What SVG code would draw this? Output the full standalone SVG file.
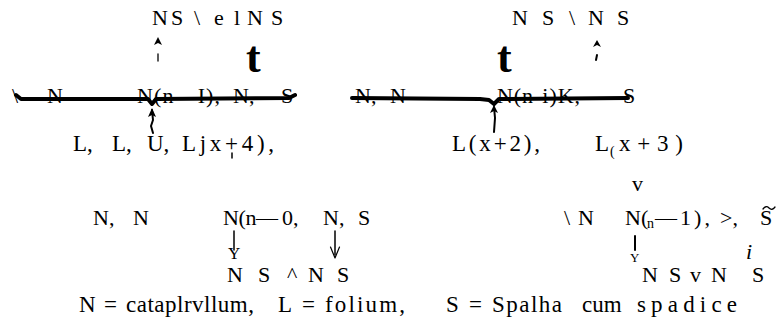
<svg xmlns="http://www.w3.org/2000/svg" width="776" height="335" viewBox="0 0 776 335">
<style>
text{font-family:'Liberation Serif',serif;font-size:22px;fill:#000}
.b{font-weight:bold;font-size:44px}
.sm{font-size:14px}
.it{font-style:italic}
.lg{font-size:23px}
.r3{font-size:23px}
.ln{fill:none;stroke:#000;stroke-linecap:round;stroke-linejoin:round}
</style>
<rect width="776" height="335" fill="#fff"/>
<g font-family="Liberation Serif, serif">
<g id="top-left"><text x="152 171 194 214 234 247 271" y="25">NS\elNS</text></g>
<g id="top-right"><text x="512 542 569 588 617" y="25">NS\NS</text></g>
<g id="t-left"><text class="b" x="246" y="72">t</text></g>
<g id="t-right"><text class="b" x="497" y="72">t</text></g>
<g id="row2-left">
<text x="12" y="103">\</text>
<text x="47" y="103">N</text>
<text x="137" y="103" textLength="83">N(n—I),</text>
<text x="233" y="103">N,</text>
<text x="281" y="103">S</text>
</g>
<g id="row2-right">
<text x="355" y="103">N,</text>
<text x="390" y="103">N</text>
<text x="497" y="103" textLength="83">N(n-i)K,</text>
<text x="623" y="103">S</text>
</g>
<g id="row3-left">
<text class="r3" x="73" y="151">L,</text>
<text class="r3" x="112" y="151">L,</text>
<text class="r3" x="147" y="151">U,</text>
<text class="r3" x="182" y="151" textLength="92">Ljx+4),</text>
</g>
<g id="row3-right">
<text class="r3" x="452" y="151" textLength="88">L(x+2),</text>
<text class="r3" x="595" y="151">L</text>
<text class="sm" x="610" y="156">(</text>
<text class="r3" x="619" y="151" textLength="64">x+3)</text>
<text x="632" y="191">v</text>
</g>
<g id="row4-left">
<text x="93" y="225">N,</text>
<text x="133" y="225">N</text>
<text x="223" y="225" textLength="55">N(n—</text>
<text x="282" y="225">0,</text>
<text x="323" y="225">N,</text>
<text x="358" y="225">S</text>
</g>
<g id="row4-right">
<text x="564" y="225">\</text>
<text x="578" y="225">N</text>
<text x="625" y="225">N(</text>
<text class="sm" x="647" y="228">n</text>
<text x="655" y="225" textLength="55">—1),</text>
<text x="720" y="225">&gt;,</text>
<text x="760" y="225">S</text>
<text class="it" x="746" y="259">i</text>
</g>
<g id="row5-left"><text x="227 258 287 308 337" y="282">NS^NS</text></g>
<g id="row5-right"><text x="642 669 690 711 752" y="282">NSvNS</text></g>
<g id="legend">
<text class="lg" x="79" y="312">N</text>
<text class="lg" x="104" y="312">=</text>
<text class="lg" x="126" y="312" textLength="128">cataplrvllum,</text>
<text class="lg" x="278" y="312">L</text>
<text class="lg" x="302" y="312">=</text>
<text class="lg" x="325" y="312" textLength="80">folium,</text>
<text class="lg" x="446" y="312">S</text>
<text class="lg" x="469" y="312">=</text>
<text class="lg" x="492" y="312" textLength="70">Spalha</text>
<text class="lg" x="582" y="312">cum</text>
<text class="lg" x="637" y="312" textLength="100">spadice</text>
</g>
</g>
<g id="connectors">
<path class="ln" stroke-width="4" d="M16,95 L21,99 L148,99 L152,104 L156,99 L289,98 L295,95"/>
<path class="ln" stroke-width="4" d="M352,98 L480,99 L489,100 L494,104 L499,99 L628,98"/>
<polygon points="154,45 158,37 162,45 158,43"/>
<line class="ln" stroke-width="1.3" x1="158" y1="54" x2="158" y2="61"/>
<polygon points="593,47 597,40 601,47 597,45"/>
<line class="ln" stroke-width="2" x1="597" y1="55" x2="596" y2="60"/>
<path class="ln" stroke-width="2" d="M152,110 L153,120 L151,126 L153,133"/>
<polygon points="148,117 152,108 156,117 152,115"/>
<path class="ln" stroke-width="2" d="M494,107 L495,118 L494,132"/>
<polygon points="490,113 494,105 498,113 494,111"/>
<line class="ln" stroke-width="1.5" x1="232" y1="153" x2="232" y2="158"/>
<line class="ln" stroke-width="1.5" x1="234" y1="231" x2="234" y2="250"/>
<text class="sm" x="228" y="259" font-family="Liberation Serif, serif" style="font-size:17px">Y</text>
<line class="ln" stroke-width="1.5" x1="335" y1="231" x2="335" y2="255"/>
<polyline class="ln" stroke-width="1.2" points="330.5,247 335,258 339.5,247"/>
<line class="ln" stroke-width="2" x1="635" y1="236" x2="635" y2="250"/>
<text class="sm" x="630" y="262" font-family="Liberation Serif, serif" style="font-size:13px">Y</text>
<path class="ln" stroke-width="1.3" d="M763,209 Q766,205 769,208 Q772,211 775,207"/>
</g>
</svg>
